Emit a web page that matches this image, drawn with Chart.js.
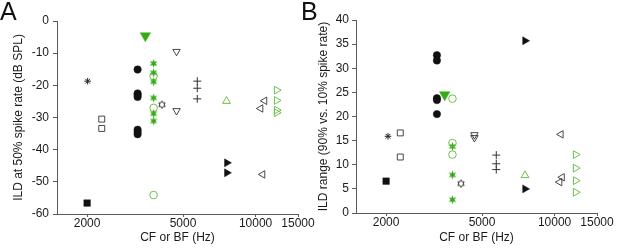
<!DOCTYPE html>
<html><head><meta charset="utf-8">
<script src="https://cdn.jsdelivr.net/npm/chart.js@4/dist/chart.umd.min.js"></script>
<style>
html,body{margin:0;padding:0;background:#fff;}
#wrap{position:relative;width:617px;height:249px;overflow:hidden;background:#fff;}
canvas{position:absolute;left:0;top:0;}
.lbl{position:absolute;font-family:"Liberation Sans",Arial,sans-serif;font-size:25px;color:#111;line-height:1;}
</style></head><body>
<div id="wrap">
<canvas id="cA" width="617" height="249"></canvas>
<canvas id="cB" width="617" height="249"></canvas>
<div class="lbl" style="left:0px;top:-1px">A</div>
<div class="lbl" style="left:301px;top:-1px">B</div>
</div>
<script>
// ---- tick labels ----
const xTickValues = [2000, 5000, 10000, 15000];
const aYTicks = [-60, -50, -40, -30, -20, -10, 0];
const bYTicks = [0, 5, 10, 15, 20, 25, 30, 35, 40];

// ---- Panel A data: [CF/BF (Hz), ILD at 50% (dB SPL)] ----
const aFilledSquare = [[2000, -56.6]];
const aOpenSquare = [[2300, -30.5], [2300, -33.4]];
const aAsterisk = [[2010, -18.7]];
const aFilledCircle = [[3240, -15.1], [3240, -22.5], [3240, -23.0], [3240, -23.6], [3240, -33.8], [3240, -34.5], [3240, -35.2]];
const aGreenDownTri = [[3490, -4.6]];
const aGreenStar = [[3775, -13.2], [3775, -16.1], [3775, -18.9], [3775, -23.9], [3775, -28.8], [3775, -31.1]];
const aGreenCircle = [[3775, -17.1], [3775, -27.0], [3775, -54.1]];
const aOpenHexStar = [[4090, -26.0]];
const aOpenDownTri = [[4700, -9.5], [4700, -27.9]];
const aPlus = [[5730, -18.7], [5730, -20.9], [5730, -24.2]];
const aGreenUpTri = [[7580, -24.9]];
const aFilledRightTri = [[7600, -44.1], [7600, -47.2]];
const aOpenLeftTri = [[10900, -24.8], [10500, -27.2], [10700, -47.7]];
const aGreenRightTri = [[12230, -21.5], [12230, -24.7], [12230, -27.7], [12230, -28.5]];

// ---- Panel B data: [CF/BF (Hz), ILD range (90% vs 10%)] ----
const bFilledSquare = [[2000, 6.6]];
const bOpenSquare = [[2290, 16.6], [2290, 11.6]];
const bAsterisk = [[2036, 15.9]];
const bFilledCircle = [[3250, 32.7], [3250, 31.6], [3250, 23.8], [3250, 23.4], [3250, 20.5]];
const bGreenDownTri = [[3500, 24.5]];
const bGreenCircle = [[3770, 23.7], [3770, 14.5], [3770, 12.1]];
const bGreenStar = [[3770, 13.8], [3770, 7.9], [3770, 2.75]];
const bOpenHexStar = [[4090, 6.1]];
const bOpenDownTri = [[4650, 16.2], [4650, 15.6]];
const bPlus = [[5730, 12.0], [5730, 10.2], [5730, 9.0]];
const bGreenUpTri = [[7540, 7.8]];
const bFilledRightTri = [[7540, 35.7], [7540, 5.0]];
const bOpenLeftTri = [[10630, 16.3], [10750, 7.4], [10500, 6.4]];
const bGreenRightTri = [[12230, 12.1], [12230, 9.3], [12230, 6.7], [12230, 4.3]];

// ---- marker images ----
function starCanvas(outer, inner, fill, stroke, lw) {
  const size = Math.ceil(outer * 2 + 4);
  const c = document.createElement('canvas');
  c.width = size; c.height = size;
  const g = c.getContext('2d');
  const cx = size / 2, cy = size / 2;
  g.beginPath();
  for (let i = 0; i < 12; i++) {
    const r = i % 2 === 0 ? outer : inner;
    const a = -Math.PI / 2 + i * Math.PI / 6;
    const px = cx + r * Math.cos(a), py = cy + r * Math.sin(a);
    if (i === 0) g.moveTo(px, py); else g.lineTo(px, py);
  }
  g.closePath();
  if (fill) { g.fillStyle = fill; g.fill(); }
  if (stroke) { g.strokeStyle = stroke; g.lineWidth = lw; g.stroke(); }
  return c;
}
const GREEN = '#36ab17';
const GREEN_L = '#6cbf4c';
const BLACK = '#111';
const greenStarImg = starCanvas(4.4, 1.9, GREEN, null, 0);
const hexStarImg = starCanvas(3.7, 2.1, null, '#222', 0.9);

const styles = {
  filledSquare: {pointStyle: 'rect', radius: 4.6, backgroundColor: BLACK, borderColor: BLACK, borderWidth: 0.5, rotation: 0},
  openSquare: {pointStyle: 'rect', radius: 4.2, backgroundColor: 'rgba(0,0,0,0)', borderColor: '#333', borderWidth: 0.9, rotation: 0},
  asterisk: {pointStyle: 'star', radius: 3.3, backgroundColor: '#222', borderColor: '#222', borderWidth: 1, rotation: 0},
  filledCircle: {pointStyle: 'circle', radius: 3.7, backgroundColor: BLACK, borderColor: BLACK, borderWidth: 0.5, rotation: 0},
  greenDownTri: {pointStyle: 'triangle', radius: 6, backgroundColor: GREEN, borderColor: GREEN, borderWidth: 0.5, rotation: 180},
  greenStar: {pointStyle: greenStarImg, radius: 4, backgroundColor: GREEN, borderColor: GREEN, borderWidth: 0, rotation: 0},
  greenCircle: {pointStyle: 'circle', radius: 3.8, backgroundColor: 'rgba(0,0,0,0)', borderColor: GREEN_L, borderWidth: 1, rotation: 0},
  openHexStar: {pointStyle: hexStarImg, radius: 4, backgroundColor: '#333', borderColor: '#333', borderWidth: 0, rotation: 0},
  openDownTri: {pointStyle: 'triangle', radius: 4.3, backgroundColor: 'rgba(0,0,0,0)', borderColor: '#333', borderWidth: 0.9, rotation: 180},
  plus: {pointStyle: 'cross', radius: 4, backgroundColor: '#333', borderColor: '#333', borderWidth: 1, rotation: 0},
  greenUpTri: {pointStyle: 'triangle', radius: 4.5, backgroundColor: 'rgba(0,0,0,0)', borderColor: GREEN_L, borderWidth: 1, rotation: 0},
  filledRightTri: {pointStyle: 'triangle', radius: 4.6, backgroundColor: BLACK, borderColor: BLACK, borderWidth: 0.5, rotation: 90},
  openLeftTri: {pointStyle: 'triangle', radius: 4.3, backgroundColor: 'rgba(0,0,0,0)', borderColor: '#333', borderWidth: 0.9, rotation: 270},
  greenRightTri: {pointStyle: 'triangle', radius: 4.5, backgroundColor: 'rgba(0,0,0,0)', borderColor: GREEN_L, borderWidth: 1, rotation: 90}
};

function ds(pairs, styleKey) {
  const s = styles[styleKey];
  return {
    type: 'scatter', label: styleKey,
    data: pairs.map(([x, y]) => ({x, y})),
    pointStyle: s.pointStyle, pointRadius: s.radius, pointRotation: s.rotation,
    pointBackgroundColor: s.backgroundColor, pointBorderColor: s.borderColor,
    pointBorderWidth: s.borderWidth, showLine: false
  };
}

const FONT = '"Liberation Sans", Arial, sans-serif';
const TXT = '#1a1a1a';
const AXIS = '#5a5a5a';

function makeChart(id, datasets, g) {
  return new Chart(document.getElementById(id), {
    type: 'scatter',
    data: {datasets},
    options: {
      responsive: false, animation: false, devicePixelRatio: 1,
      layout: {padding: {left: g.left, top: g.top, right: g.right, bottom: 0}},
      plugins: {legend: {display: false}, tooltip: {enabled: false}},
      events: [],
      scales: {
        x: {
          type: 'logarithmic', min: 1500, max: 15000,
          afterBuildTicks: s => { s.ticks = xTickValues.map(v => ({value: v})); },
          afterFit: s => { s.height = g.xh; s.paddingLeft = 0; s.paddingRight = 0; },
          ticks: {autoSkip: false, maxRotation: 0, minRotation: 0, padding: -1, color: TXT,
                  font: {family: FONT, size: 12}, callback: v => String(v)},
          grid: {display: true, drawOnChartArea: false, drawTicks: true, tickLength: 3, color: AXIS},
          border: {display: true, color: AXIS, width: 1},
          title: {display: true, text: 'CF or BF (Hz)', color: TXT, font: {family: FONT, size: 12},
                  padding: {top: 0, bottom: 4}}
        },
        y: {
          type: 'linear', min: g.ymin, max: g.ymax,
          afterBuildTicks: s => { s.ticks = g.yticks.map(v => ({value: v})); },
          afterFit: s => { s.width = g.yw; s.paddingTop = 0; s.paddingBottom = 0; },
          ticks: {padding: g.tpad, color: TXT, font: {family: FONT, size: 12}},
          grid: {display: true, drawOnChartArea: false, drawTicks: true, tickLength: 4, color: AXIS},
          border: {display: true, color: AXIS, width: 1},
          title: {display: true, text: g.ytitle, color: TXT, font: {family: FONT, size: 12},
                  padding: {top: g.ttop, bottom: 0}}
        }
      }
    }
  });
}

makeChart('cA', [
  ds(aFilledSquare, 'filledSquare'), ds(aOpenSquare, 'openSquare'), ds(aAsterisk, 'asterisk'),
  ds(aFilledCircle, 'filledCircle'), ds(aGreenDownTri, 'greenDownTri'), ds(aGreenStar, 'greenStar'),
  ds(aGreenCircle, 'greenCircle'), ds(aOpenHexStar, 'openHexStar'), ds(aOpenDownTri, 'openDownTri'),
  ds(aPlus, 'plus'), ds(aGreenUpTri, 'greenUpTri'), ds(aFilledRightTri, 'filledRightTri'),
  ds(aOpenLeftTri, 'openLeftTri'), ds(aGreenRightTri, 'greenRightTri')
], {left: 0, top: 21, right: 319, xh: 35, yw: 57, ymin: -60, ymax: 0, yticks: aYTicks, tpad: 4,
    ttop: 11, ytitle: 'ILD at 50% spike rate (dB SPL)'});

makeChart('cB', [
  ds(bFilledSquare, 'filledSquare'), ds(bOpenSquare, 'openSquare'), ds(bAsterisk, 'asterisk'),
  ds(bFilledCircle, 'filledCircle'), ds(bGreenDownTri, 'greenDownTri'), ds(bGreenCircle, 'greenCircle'),
  ds(bGreenStar, 'greenStar'), ds(bOpenHexStar, 'openHexStar'), ds(bOpenDownTri, 'openDownTri'),
  ds(bPlus, 'plus'), ds(bGreenUpTri, 'greenUpTri'), ds(bFilledRightTri, 'filledRightTri'),
  ds(bOpenLeftTri, 'openLeftTri'), ds(bGreenRightTri, 'greenRightTri')
], {left: 310, top: 20, right: 20, xh: 36, yw: 46, ymin: 0, ymax: 40, yticks: bYTicks, tpad: 3,
    ttop: 6, ytitle: 'ILD range (90% vs. 10% spike rate)'});
</script>
</body></html>
